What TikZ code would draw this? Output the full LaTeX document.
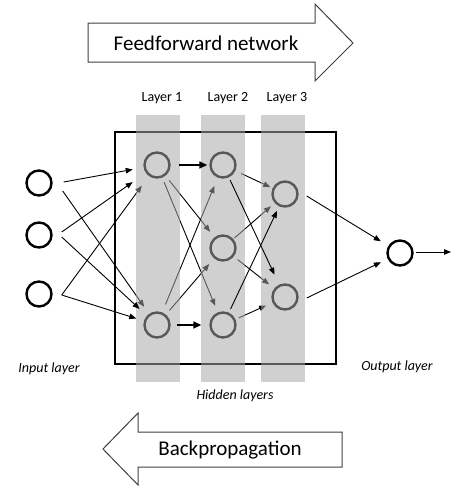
\documentclass[tikz,border=0pt]{standalone}
\usepackage{fontspec}
\setmainfont{Carlito}
\usetikzlibrary{arrows.meta}
\definecolor{stripgray}{RGB}{167,167,167}
\definecolor{outlinegray}{RGB}{64,64,64}
\begin{document}
\begin{tikzpicture}[x=1pt,y=-1pt,
  neuron/.style={circle,draw=black,line width=2.4pt,minimum size=25pt,inner sep=0pt},
  conn/.style={-{Triangle[length=7pt,width=5.5pt]},line width=0.9pt},
  connthick/.style={-{Triangle[length=8pt,width=7pt]},line width=1.6pt},
  gap/.style 2 args={shorten <=#1pt,shorten >=#2pt},
  stripbox/.style={fill=stripgray,fill opacity=0.53,draw=none},
  blockarrow/.style={draw=outlinegray,line width=1pt,fill=white},
  lbl/.style={font=\fontsize{14}{16}\selectfont,inner sep=0pt},
  ilbl/.style={font=\fontsize{14}{16}\selectfont\itshape,inner sep=0pt},
  big/.style={font=\fontsize{21}{25}\selectfont,inner sep=0pt}]
\useasboundingbox (0,0) rectangle (471,501);

% block arrows
\draw[blockarrow] (88,23) -- (315,23) -- (315,4) -- (353,43) -- (315,81) -- (315,62) -- (88,62) -- cycle;
\node[big] (ff) at (206,43) {Feedforward network};
\draw[blockarrow] (342,432) -- (138,432) -- (138,413) -- (103,449) -- (138,485) -- (138,467) -- (342,467) -- cycle;
\node[big] (bp) at (230,450) {Backpropagation};

% frame
\draw[line width=1.2pt] (115,132) rectangle (336,364);

% neurons
\node[neuron] (i1) at (39,183) {};
\node[neuron] (i2) at (39,235) {};
\node[neuron] (i3) at (39,294) {};
\node[neuron] (l1a) at (157,165) {};
\node[neuron] (l1b) at (157,325) {};
\node[neuron] (l2a) at (223,165) {};
\node[neuron] (l2b) at (223,248) {};
\node[neuron] (l2c) at (223,325) {};
\node[neuron] (l3a) at (285,194) {};
\node[neuron] (l3b) at (285,297) {};
\node[neuron] (out) at (400,253) {};
\coordinate (outend) at (451,252);

% connectors beneath the strips
\draw[conn,shorten >=12pt] ([shift={(9,1)}]i3.east) -- (l1a);
\draw[conn,shorten >=8.5pt] ([shift={(10,8)}]i1.east) -- (l1b);
\draw[conn,gap={6}{7}] (l1a) -- (l2b);
\draw[conn,gap={5}{7}] (l1a) -- (l2c);
\draw[conn,gap={8.5}{9}] (l1b) -- (l2a);
\draw[conn,gap={5.5}{7.5}] (l1b) -- (l2b);
\draw[conn,gap={6.5}{2.5}] (l2a) -- (l3a);
\draw[conn,gap={1.5}{5}] (l2b) -- (l3a);
\draw[conn,gap={5}{6.5}] (l2b) -- (l3b);
\draw[conn,gap={3.5}{7}] (l2c) -- (l3b);

% strips
\fill[stripbox] (136,115) rectangle (180,382);
\fill[stripbox] (201,115) rectangle (245,382);
\fill[stripbox] (261,115) rectangle (305,382);

% connectors above the strips
\draw[conn,shorten >=11pt] ([shift={(11,-1)}]i1.east) -- (l1a);
\draw[conn,shorten >=16pt] ([shift={(9,-3)}]i2.east) -- (l1a);
\draw[conn,shorten >=10pt] ([shift={(9,2)}]i2.east) -- (l1b);
\draw[conn,shorten >=8pt] ([shift={(9,1)}]i3.east) -- (l1b);
\draw[connthick,gap={8}{2}] (l1a) -- (l2a);
\draw[connthick,gap={6}{8}] (l1b) -- (l2c);
\draw[conn,gap={3}{11}] (l2a) -- (l3b);
\draw[conn,gap={4}{5}] (l2c) -- (l3a);
\draw[conn,shorten >=8.8pt] ([shift={(8,2)}]l3a.east) -- (out);
\draw[conn,shorten >=7.5pt] ([shift={(8,1)}]l3b.east) -- (out);
\draw[conn] ([shift={(2,-1)}]out.east) -- (outend);

% labels
\node[lbl] (t1) at (162,98) {Layer 1};
\node[lbl] (t2) at (228,98) {Layer 2};
\node[lbl] (t3) at (287,98) {Layer 3};
\node[ilbl] (tin) at (49,369) {Input layer};
\node[ilbl] (tout) at (397,367) {Output layer};
\node[ilbl] (thid) at (235,396) {Hidden layers};
\end{tikzpicture}
\end{document}
